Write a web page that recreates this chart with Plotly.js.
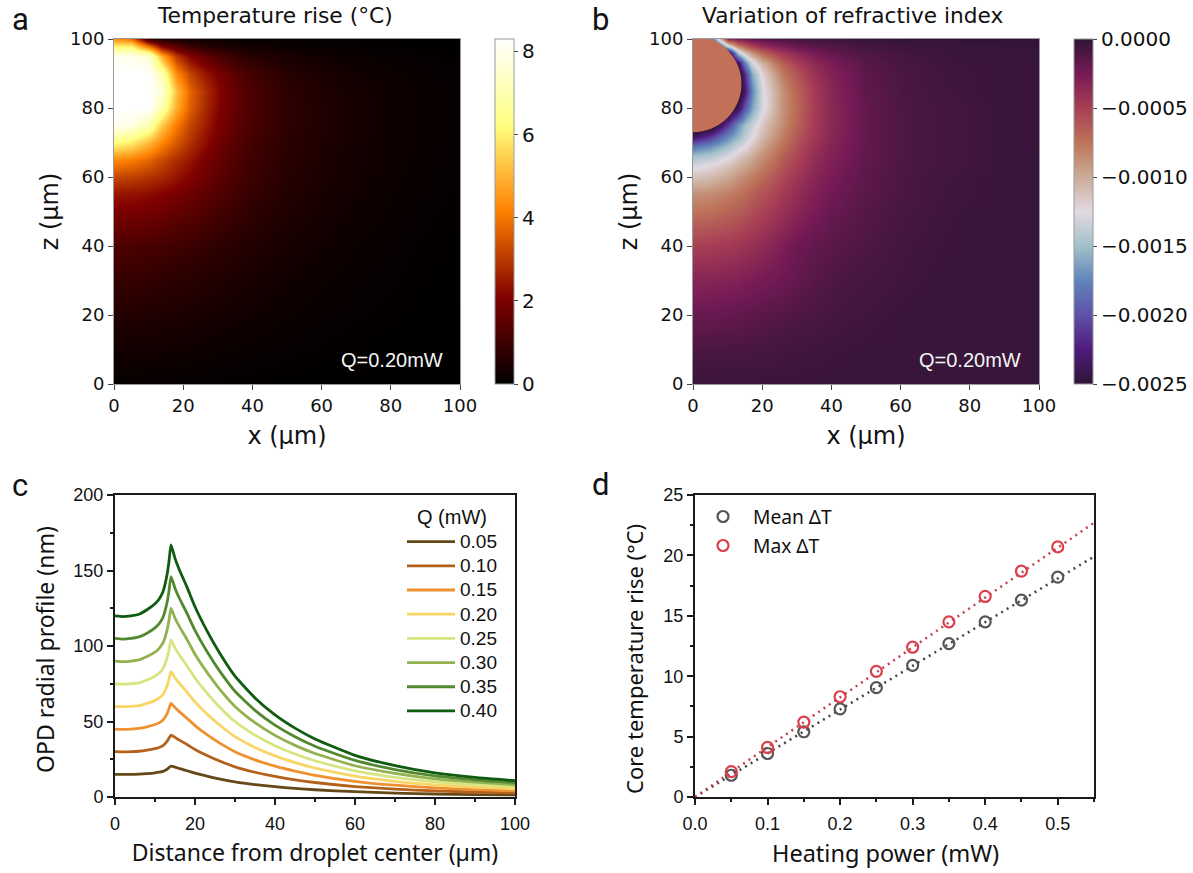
<!DOCTYPE html>
<html><head><meta charset="utf-8">
<script src="https://cdn.plot.ly/plotly-3.0.1.min.js"></script>
<style>html,body{margin:0;padding:0;background:#fff}#g{width:1193px;height:873px}</style></head>
<body><div id="g"></div>
<script>
// ---- Panel a: temperature rise (deg C)
const tempX = [0,5,10,14,18,22,26,30,35,40,50,60,70,80,90,100];
const tempZ = [0,10,20,30,40,50,55,60,65,70,75,80,85,90,95,98,100];
const tempRows = [
[.1,.1,.09,.09,.08,.08,.07,.06,.05,.05,.03,.02,.02,.01,.01,0],
[.3,.29,.28,.27,.25,.23,.21,.19,.16,.14,.1,.07,.05,.03,.02,.01],
[.55,.54,.52,.49,.46,.42,.38,.35,.3,.26,.18,.13,.09,.06,.04,.02],
[.85,.83,.8,.75,.7,.65,.58,.52,.45,.38,.27,.19,.13,.09,.05,.03],
[1.25,1.22,1.15,1.1,1.02,.95,.85,.75,.63,.53,.37,.26,.18,.12,.07,.04],
[2,1.95,1.85,1.75,1.6,1.45,1.3,1.1,.92,.75,.5,.35,.24,.16,.1,.06],
[2.4,2.35,2.25,2.1,1.95,1.75,1.5,1.3,1.05,.85,.56,.39,.27,.18,.12,.07],
[3.2,3.1,2.9,2.7,2.4,2.1,1.8,1.5,1.2,.95,.62,.43,.3,.2,.13,.08],
[4.3,4.1,3.7,3.25,2.8,2.4,2,1.65,1.27,1,.66,.46,.32,.22,.14,.09],
[6.2,5.9,5,4.2,3.5,2.85,2.3,1.85,1.4,1.08,.7,.48,.33,.23,.15,.1],
[8.1,7.9,7,5.3,4.1,3.2,2.6,2,1.55,1.15,.75,.5,.34,.24,.16,.1],
[8.3,8.3,8.3,6.9,4.9,3.6,2.8,2.15,1.6,1.2,.76,.5,.34,.24,.16,.1],
[8.3,8.3,8.3,7.7,5.2,3.7,2.9,2.2,1.6,1.2,.73,.48,.33,.23,.15,.1],
[8.3,8.3,8.3,7,4.4,3.2,2.5,2,1.45,1.05,.64,.42,.29,.2,.13,.09],
[8,8,7.6,4.8,3,2.1,1.6,1.2,.85,.65,.38,.25,.17,.12,.08,.05],
[6,6,3.8,2,1.4,.9,.65,.5,.35,.27,.17,.12,.08,.06,.04,.03],
[4.5,4,.9,.55,.4,.3,.25,.2,.15,.12,.08,.05,.04,.03,.02,.02]
];
// ---- Panel b: variation of refractive index, in units of 1e-5
const dnX = [0,5,10,13,15,17,20,23,26,30,35,40,50,60,70,80,90,100];
const dnZ = [0,10,20,30,40,50,55,60,63,66,69,72,75,80,85,90,93,96,98,100];
const dnRows = [
[4,4,4,4,4,4,4,4,4,4,4,4,3,3,3,3,3,3],
[10,10,9,9,9,9,8,8,7,6,6,5,4,4,3,3,3,3],
[20,20,19,18,17,16,15,14,13,11,10,8,6,4,3,3,3,3],
[33,32,31,30,28,27,25,23,21,18,14,11,8,6,4,3,3,3],
[50,49,47,45,43,41,37,33,28,22,18,15,11,7,5,4,3,3],
[75,73,68,64,61,57,52,47,41,34,26,20,13,9,6,4,4,3],
[88,86,80,75,71,66,60,54,47,39,30,23,15,10,7,5,4,3],
[112,108,98,90,85,79,71,63,54,45,34,26,16,10,7,5,4,3],
[127,122,111,102,96,89,79,70,60,49,37,28,17,11,8,6,4,3],
[150,143,128,116,108,100,88,77,66,53,40,30,18,11,8,6,4,3],
[185,172,150,135,125,114,98,85,73,58,43,32,18,11,8,6,4,4],
[240,215,175,155,140,128,108,93,79,62,46,34,18,11,8,6,4,4],
[270,270,210,170,150,135,115,99,85,67,48,35,18,11,8,6,4,4],
[270,270,270,240,195,163,130,108,88,70,49,35,18,11,8,6,4,4],
[270,270,270,270,230,175,130,108,87,68,48,34,17,10,7,5,4,4],
[270,270,270,270,215,160,122,98,78,60,43,31,16,10,7,5,4,4],
[270,270,270,240,175,132,104,83,65,50,36,27,14,9,6,4,4,3],
[270,270,265,145,112,90,70,56,46,35,26,19,11,7,5,4,3,3],
[270,270,130,80,65,52,40,32,26,20,15,12,7,5,4,3,2,2],
[270,200,40,30,25,20,15,12,10,8,6,5,3,2,2,1,1,1]
];
const dropletCenterZ = [87];
const dropletRadius = [14];
// ---- Panel c: OPD radial profiles
const opdX = [0,2,4,6,8,10,11,12,13,13.5,14,15,16,18,20,23,26,30,35,40,45,50,60,70,80,90,100];
const opd005 = [15,15,15,15.2,15.5,16,16.4,17,18.4,19.5,20.5,19.8,18.9,17.4,15.8,13.8,12,10,8.2,6.8,5.7,4.8,3.5,2.6,2,1.6,1.4];
const opd010 = [30,29.9,30,30.3,31,32,32.8,34,36.8,39,41,39.5,37.8,34.8,31.5,27.5,24,20,16.4,13.6,11.4,9.6,6.9,5.2,4,3.3,2.7];
const opd015 = [45,44.8,45,45.4,46.5,48,49.1,51,55.1,58.5,62,59.3,56.7,52.1,47.3,41.3,36,30,24.6,20.4,17.1,14.4,10.4,7.8,6,4.9,4.1];
const opd020 = [60,59.8,60,60.5,62,64,65.5,68,73.5,78,83,79,75.5,69.5,63,55,48,40,32.8,27.2,22.8,19.2,13.8,10.4,8,6.5,5.4];
const opd025 = [75,74.7,75,75.6,77.5,80,81.9,85,91.9,97.5,104,98.8,94.4,86.9,78.8,68.8,60,50,41,34,28.5,24,17.3,13,10,8.2,6.8];
const opd030 = [90,89.6,90,90.8,93,96,98.3,102,110.3,117,125,118.5,113.3,104.3,94.5,82.5,72,60,49.2,40.8,34.2,28.8,20.7,15.6,12,9.8,8.1];
const opd035 = [105,104.5,105,106,108.5,112,114.6,119,128.6,136.5,146,138.3,132.1,121.6,110.3,96.3,84,70,57.4,47.6,39.9,33.6,24.2,18.2,14,11.4,9.5];
const opd040 = [120,119.5,120,121,124,128,131,136,147,156,167,158,151,139,126,110,96,80,65.6,54.4,45.6,38.4,27.6,20.8,16,13,10.8];
const opdSeries = [opd005,opd010,opd015,opd020,opd025,opd030,opd035,opd040];
const opdNames = ['0.05','0.10','0.15','0.20','0.25','0.30','0.35','0.40'];
const opdColors = ['#654818','#b4611c','#ee9130','#f8d565','#d8e47f','#92b14f','#52892f','#0f5b10'];
// ---- Panel d: core temperature rise
const power = [.05,.1,.15,.2,.25,.3,.35,.4,.45,.5];
const meanDT = [1.8,3.6,5.4,7.3,9.05,10.9,12.7,14.5,16.3,18.2];
const maxDT = [2.1,4.1,6.2,8.3,10.4,12.4,14.5,16.6,18.7,20.7];
const fitPower = [0,.55];
const fitMean = [0,19.9];
const fitMax = [0,22.7];

const W=1193,H=873;
const dx=(a,b)=>[a/W,b/W];
const dy=(top,bot)=>[1-bot/H,1-top/H];
const HEAT_FONT='DejaVu Sans', SANS='Liberation Sans', LABEL='Noto Sans', LETTER='Roboto';
const ink='#1a1a1a';
const afmhot=[[0,'#000000'],[.25,'#800000'],[.5,'#ff8000'],[.75,'#ffff80'],[1,'#ffffff']];
const twilight=[[0,'#2f1436'],[.1,'#4e1b7c'],[.2,'#5f50a8'],[.3,'#5f85bb'],[.4,'#a3c0c9'],[.5,'#e2d9e2'],[.6,'#cbab97'],[.7,'#bd7358'],[.8,'#a83e55'],[.9,'#761a55'],[1,'#2f1436']];

function heatAxis(dom,anchor,title,so){return {domain:dom,anchor,range:[0,100],dtick:20,tick0:0,ticks:'outside',ticklen:5,tickwidth:1,tickcolor:'#444',
  showline:true,linecolor:'#999',linewidth:1,mirror:true,showgrid:false,zeroline:false,
  tickfont:{family:HEAT_FONT,size:18,color:'#111'},title:{text:title,font:{family:HEAT_FONT,size:24,color:'#111'},standoff:so}};}
function frameAxis(dom,anchor,range,dtick,minor,title,so,size,extra){return Object.assign({domain:dom,anchor,range,dtick,tick0:0,ticks:'outside',ticklen:6,tickwidth:1.5,tickcolor:ink,
  minor:{dtick:minor,tick0:0,ticks:'outside',ticklen:3,tickwidth:1.5,tickcolor:ink,showgrid:false},
  showline:true,linecolor:ink,linewidth:2,mirror:true,showgrid:false,zeroline:false,
  tickfont:{family:SANS,size:18,color:'#111'},title:{text:title,font:{family:LABEL,size,color:'#111'},standoff:so}},extra||{});}

const traces=[
 {type:'heatmap',x:tempX,y:tempZ,z:tempRows,xaxis:'x',yaxis:'y',zsmooth:'best',colorscale:afmhot,zmin:0,zmax:8.3,showlegend:false,
  colorbar:{x:495/W,xanchor:'left',xpad:0,ypad:0,y:1-39/H,yanchor:'top',lenmode:'pixels',len:345,thickness:19,thicknessmode:'pixels',
   outlinecolor:'#999',outlinewidth:1,tickvals:[0,2,4,6,8],ticks:'outside',ticklen:4,tickcolor:'#444',tickfont:{family:HEAT_FONT,size:20,color:'#111'}}},
 {type:'heatmap',x:dnX,y:dnZ,z:dnRows.map(r=>r.map(v=>-v*1e-5)),xaxis:'x2',yaxis:'y2',zsmooth:'best',colorscale:twilight,zmin:-.0025,zmax:0,showlegend:false,
  colorbar:{x:1074/W,xanchor:'left',xpad:0,ypad:0,y:1-39/H,yanchor:'top',lenmode:'pixels',len:345,thickness:19,thicknessmode:'pixels',
   outlinecolor:'#999',outlinewidth:1,tickvals:[0,-.0005,-.001,-.0015,-.002,-.0025],tickformat:'.4f',ticks:'outside',ticklen:4,tickcolor:'#444',tickfont:{family:HEAT_FONT,size:20,color:'#111'}}}
];
opdSeries.forEach((s,i)=>traces.push({type:'scatter',mode:'lines',x:opdX,y:s,xaxis:'x3',yaxis:'y3',name:'<span style="font-size:19px">'+opdNames[i]+'</span>',line:{color:opdColors[i],width:2.8,shape:'spline',smoothing:.5},legend:'legend',showlegend:true}));
traces.push(
 {type:'scatter',mode:'lines',x:fitPower,y:fitMean,xaxis:'x4',yaxis:'y4',line:{color:'#444',width:2.5,dash:'2px,4.5px'},showlegend:false},
 {type:'scatter',mode:'lines',x:fitPower,y:fitMax,xaxis:'x4',yaxis:'y4',line:{color:'#c4404e',width:2.5,dash:'2px,4.5px'},showlegend:false},
 {type:'scatter',mode:'markers',x:power,y:meanDT,xaxis:'x4',yaxis:'y4',name:'<span style="font-size:19.2px">Mean \u0394T</span>',legend:'legend2',marker:{symbol:'circle-open',size:11,color:'#555',line:{width:2.2,color:'#555'}}},
 {type:'scatter',mode:'markers',x:power,y:maxDT,xaxis:'x4',yaxis:'y4',name:'<span style="font-size:19.2px">Max \u0394T</span>',legend:'legend2',marker:{symbol:'circle-open',size:11,color:'#dc3f4c',line:{width:2.2,color:'#dc3f4c'}}}
);

function note(text,x,y,size,family,color,extra){return Object.assign({text,xref:'paper',yref:'paper',x:x/W,y:1-y/H,xanchor:'center',yanchor:'middle',showarrow:false,font:{size,family,color:color||'#111'}},extra||{});}
const layout={width:W,height:H,margin:{l:0,r:0,t:0,b:0},paper_bgcolor:'#fff',plot_bgcolor:'#fff',showlegend:true,
 xaxis:heatAxis(dx(114,460),'y','x (\u00b5m)',12),
 yaxis:heatAxis(dy(39,384),'x','z (\u00b5m)',4),
 xaxis2:heatAxis(dx(693,1039),'y2','x (\u00b5m)',12),
 yaxis2:heatAxis(dy(39,384),'x2','z (\u00b5m)',4),
 xaxis3:frameAxis(dx(115,515),'y3',[0,100],20,10,'Distance from droplet center (\u00b5m)',12,23,{ticklabelstandoff:3}),
 yaxis3:frameAxis(dy(495,797),'x3',[0,200],50,25,'',13,23),
 xaxis4:frameAxis(dx(695,1094),'y4',[0,.55],.1,.05,'',12,23.5,{ticklabelstandoff:3,tickformat:'.1f'}),
 yaxis4:frameAxis(dy(495,797),'x4',[0,25],5,2.5,'',15,22),
 legend:{x:402/W,y:1-524.5/H,xanchor:'left',yanchor:'top',bgcolor:'rgba(0,0,0,0)',itemwidth:48,tracegroupgap:0,font:{family:SANS,size:16.3,color:'#111'}},
 legend2:{x:693/W,y:1-497/H,xanchor:'left',yanchor:'top',bgcolor:'rgba(0,0,0,0)',itemwidth:50,tracegroupgap:0,font:{family:LABEL,size:20,color:'#111'}},
 shapes:[{type:'circle',xref:'x2',yref:'y2',x0:-dropletRadius[0],x1:dropletRadius[0],y0:dropletCenterZ[0]-dropletRadius[0],y1:dropletCenterZ[0]+dropletRadius[0],fillcolor:'#c27058',line:{width:0},layer:'above'}],
 annotations:[
  note('Temperature rise (\u00b0C)',275,15,21.8,HEAT_FONT),
  note('Variation of refractive index',853,15,21.7,HEAT_FONT),
  note('Q=0.20mW',392.5,360,20,SANS,'#f4f4f4'),
  note('Q=0.20mW',970.5,360,20,SANS,'#f4f4f4'),
  note('Q (mW)',452,517,20,SANS),
  note('OPD radial profile (nm)',45,650,23,LABEL,'#111',{textangle:-90}),
  note('Heating power (mW)',886,853,23.5,LABEL),
  note('Core temperature rise (\u00b0C)',634,659,22,LABEL,'#111',{textangle:-90}),
  note('a',20,19,31,LETTER),
  note('b',600,19,31,LETTER),
  note('c',20,485,31,LETTER),note('d',600,484,31,LETTER)
 ]};
Plotly.newPlot('g',traces,layout,{displayModeBar:false,responsive:false});
</script></body></html>
